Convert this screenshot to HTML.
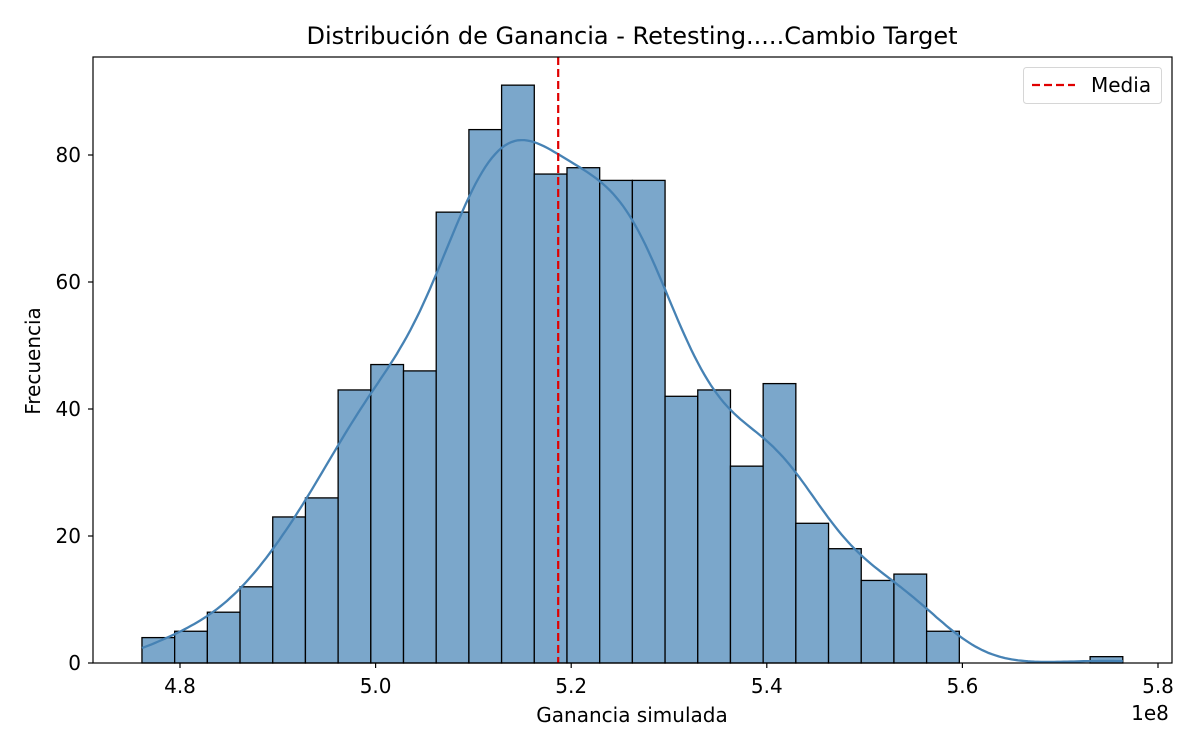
<!DOCTYPE html>
<html><head><meta charset="utf-8"><style>
body{margin:0;background:#fff}
svg text{font-family:"DejaVu Sans","Liberation Sans",sans-serif;fill:#000}
</style></head><body>
<svg id="c" width="1200" height="750" xmlns="http://www.w3.org/2000/svg"></svg>
<script>
const binStart = 4.7611;
const binWidth = 0.03343;
const counts = [4,5,8,12,23,26,43,47,46,71,84,91,77,78,76,76,42,43,31,44,22,18,13,14,5,0,0,0,0,1];
const meanValue = 5.1867;
const xTicks = [4.8,5.0,5.2,5.4,5.6,5.8];
const yTicks = [0,20,40,60,80];

const L=93,R=1172,T=57,B=663;
const xs=v=>180+(v-4.8)/0.2*195.6;
const ys=v=>B-v*6.35;
const svg=document.getElementById('c');
const NS='http://www.w3.org/2000/svg';
function mk(tag,attrs,parent){const e=document.createElementNS(NS,tag);for(const k in attrs)e.setAttribute(k,attrs[k]);(parent||svg).appendChild(e);return e;}

counts.forEach((c,i)=>{
  if(c<=0)return;
  const x0=xs(binStart+i*binWidth),x1=xs(binStart+(i+1)*binWidth);
  const r=mk('rect',{x:x0,y:ys(c),width:x1-x0,height:ys(0)-ys(c),fill:'#7ba7cb',stroke:'#000','stroke-width':1.3});
  
  
});

let n=0,m=0;counts.forEach((c,i)=>{const v=binStart+(i+.5)*binWidth;n+=c;m+=c*v;});m/=n;
let vr=0;counts.forEach((c,i)=>{const v=binStart+(i+.5)*binWidth;vr+=c*(v-m)**2;});
const sd=Math.sqrt(vr/(n-1)),bw=sd*Math.pow(n,-0.2);
let d='';
const lo=binStart,hi=binStart+counts.length*binWidth;
for(let k=0;k<=300;k++){
  const x=lo+(hi-lo)*k/300;let s=0;
  counts.forEach((c,i)=>{const v=binStart+(i+.5)*binWidth;s+=c*Math.exp(-0.5*((x-v)/bw)**2);});
  const dens=s/(bw*Math.sqrt(2*Math.PI))*binWidth;
  d+=(k?'L':'M')+xs(x).toFixed(1)+','+ys(dens).toFixed(1);
}
const kde=mk('path',{d:d,fill:'none',stroke:'#4682b4','stroke-width':2.3});



const ml=mk('line',{x1:xs(meanValue),x2:xs(meanValue),y1:T,y2:B,stroke:'#e00000','stroke-width':2.2,'stroke-dasharray':'8,4'});



const frame=mk('rect',{x:L,y:T,width:R-L,height:B-T,fill:'none',stroke:'#000','stroke-width':1.2});



xTicks.forEach(v=>{
  const x=xs(v);
  const t=mk('line',{x1:x,x2:x,y1:B,y2:B+5,stroke:'#000','stroke-width':1.2});
  
  
  const l=mk('text',{x:x,y:B+30,'font-size':20,'text-anchor':'middle'});l.textContent=v.toFixed(1);
  
  
});
yTicks.forEach(v=>{
  const y=ys(v);
  const t=mk('line',{x1:L-5,x2:L,y1:y,y2:y,stroke:'#000','stroke-width':1.2});
  
  
  const l=mk('text',{x:L-12,y:y+7,'font-size':20,'text-anchor':'end'});l.textContent=v;
  
  
});
</script>
<svg width="1200" height="750" style="position:absolute;left:0;top:0" xmlns="http://www.w3.org/2000/svg">
<text x="632" y="44" font-size="24" text-anchor="middle">Distribución de Ganancia - Retesting.....Cambio Target</text>
<text x="632" y="722" font-size="20" text-anchor="middle">Ganancia simulada</text>
<text x="1150" y="720" font-size="20" text-anchor="middle">1e8</text>
<text transform="translate(40,361) rotate(-90)" font-size="20" text-anchor="middle">Frecuencia</text>
<g>
<rect x="1023.5" y="67.5" width="138" height="36" rx="3" fill="#fff" stroke="#d6d6d6"/>
<line x1="1032" x2="1075" y1="85" y2="85" stroke="#e00000" stroke-width="2.2" stroke-dasharray="8,4"/>
<text x="1091" y="92" font-size="20">Media</text>
</g>
</svg>
</body></html>
